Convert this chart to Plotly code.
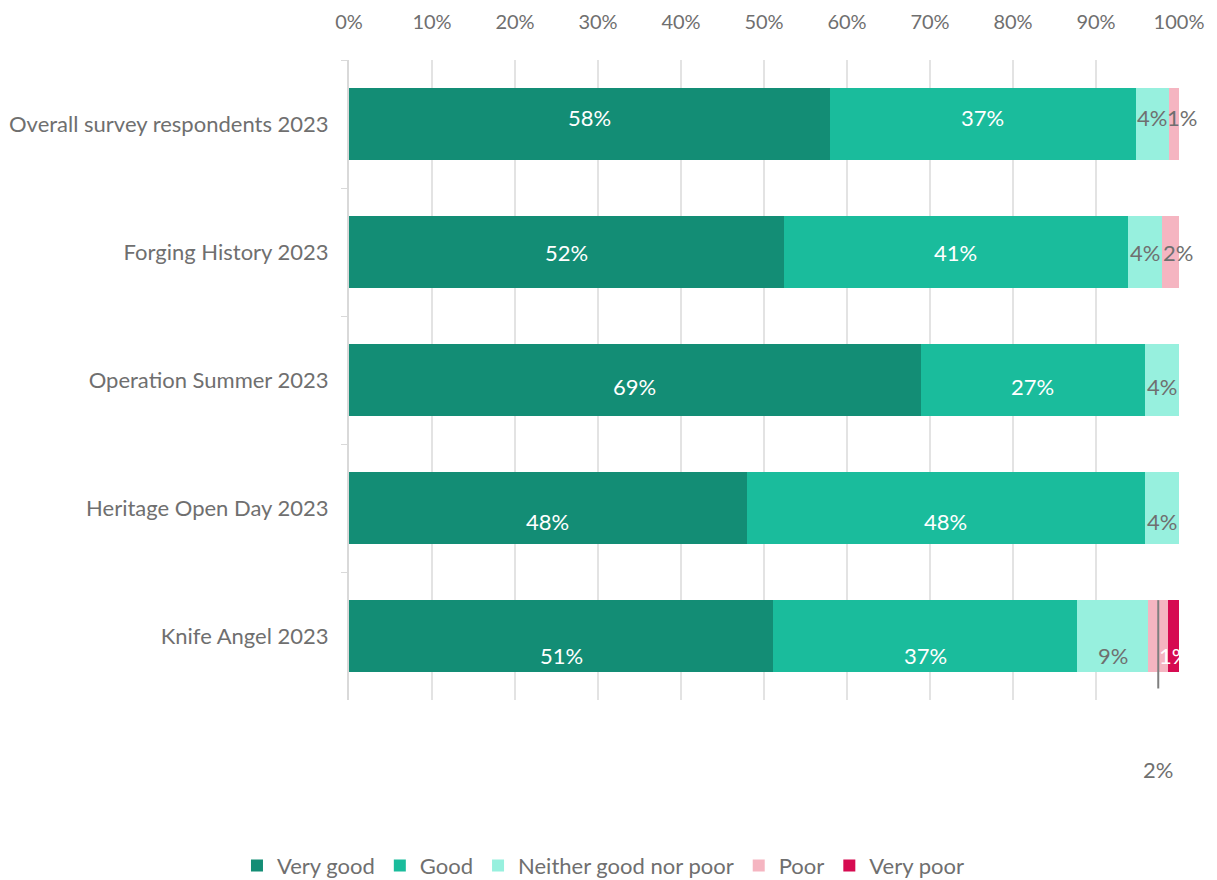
import plotly.graph_objects as go

# Survey ratings by event (percent of respondents)
categories = [
    "Overall survey respondents 2023",
    "Forging History 2023",
    "Operation Summer 2023",
    "Heritage Open Day 2023",
    "Knife Angel 2023",
]
very_good = [57.9, 52.4, 68.9, 47.9, 51.1]
good = [36.9, 41.4, 27.0, 48.0, 36.6]
neither = [4.0, 4.1, 4.1, 4.1, 8.6]
poor = [1.2, 2.1, 0.0, 0.0, 2.4]
very_poor = [0.0, 0.0, 0.0, 0.0, 1.3]

series_names = ["Very good", "Good", "Neither good nor poor", "Poor", "Very poor"]
series_values = [very_good, good, neither, poor, very_poor]
series_colors = ["#138d75", "#1abc9c", "#97f0de", "#f5b5c1", "#d60b51"]
label_colors = ["white", "white", "#6f6f6f", "#6f6f6f", "white"]

FONT = "Lato, 'Open Sans', sans-serif"
GRAY = "#6f6f6f"

fig = go.Figure()
for name, vals, col in zip(series_names, series_values, series_colors):
    fig.add_trace(go.Bar(
        name=name, y=categories, x=vals, orientation="h",
        marker=dict(color=col, line=dict(width=0)),
        hoverinfo="x+y+name",
    ))

last = len(categories) - 1
poor_idx = series_names.index("Poor")

# Segment labels placed at the middle of each segment
annotations = []
for i, cat in enumerate(categories):
    start = 0.0
    for k, (vals, tcol) in enumerate(zip(series_values, label_colors)):
        v = vals[i]
        if v > 0 and not (i == last and k == poor_idx):
            # nudge the thin "Poor" labels so they sit beside the neighbouring label
            xs = 8 if (k == poor_idx) else 0
            annotations.append(dict(
                x=start + v / 2, y=cat, xref="x", yref="y",
                text=f"{round(v)}%", showarrow=False,
                font=dict(family=FONT, size=22, color=tcol),
                yshift=6.5 - 6.5 * i, xshift=xs,
            ))
        start += v

# Callout for the small "Poor" segment of the last row
poor_mid = very_good[last] + good[last] + neither[last] + poor[last] / 2
annotations.append(dict(
    x=poor_mid, y=categories[last], xref="x", yref="y",
    text=f"{round(poor[last])}%", showarrow=False,
    font=dict(family=FONT, size=22, color=GRAY), yshift=-133,
))
fig.add_shape(type="line", xref="x", yref="y",
              x0=poor_mid, x1=poor_mid, y0=last - 0.28, y1=last + 0.41,
              line=dict(color="#7f7f7f", width=2), layer="above")

fig.update_layout(
    width=1217, height=880,
    barmode="stack", bargap=0.435,
    plot_bgcolor="white", paper_bgcolor="white",
    margin=dict(l=349, r=38, t=60, b=180, autoexpand=False),
    font=dict(family=FONT, size=22, color=GRAY),
    annotations=annotations,
    legend=dict(
        orientation="h", x=0.306, xanchor="center", y=-0.259, yanchor="middle",
        font=dict(family=FONT, size=22, color=GRAY),
        traceorder="normal", itemclick=False, itemwidth=30,
    ),
    xaxis=dict(
        range=[0, 100], dtick=10, ticksuffix="%", side="top",
        showgrid=True, gridcolor="#e3e3e3", gridwidth=2,
        zeroline=False, showline=False, ticks="",
        ticklabelstandoff=26,
        tickfont=dict(family=FONT, size=20, color=GRAY),
    ),
    yaxis=dict(
        autorange="reversed", showline=True, linecolor="#d9d9d9", linewidth=2,
        ticks="outside", tickson="boundaries", ticklen=6, tickcolor="#d9d9d9",
        ticklabelstandoff=14,
        tickfont=dict(family=FONT, size=22, color=GRAY),
    ),
)

fig.write_html("out.html")
